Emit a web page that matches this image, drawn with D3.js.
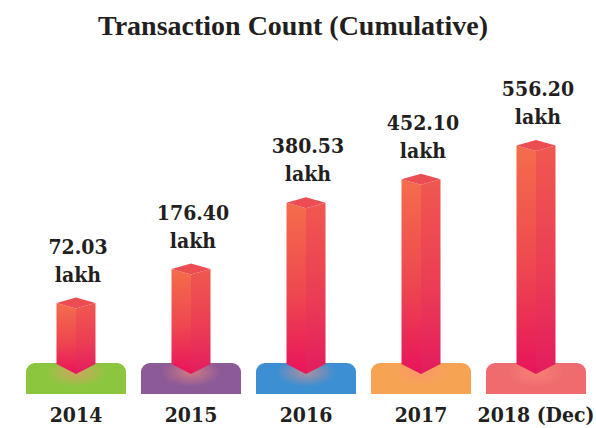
<!DOCTYPE html>
<html>
<head>
<meta charset="utf-8">
<script src="https://cdn.jsdelivr.net/npm/d3@7"></script>
<style>
  html, body { margin: 0; padding: 0; background: #ffffff; }
  svg { display: block; }
</style>
</head>
<body>
<script>
// Cumulative transaction count, in lakh
const years = ["2014", "2015", "2016", "2017", "2018 (Dec)"];
const counts = [72.03, 176.40, 380.53, 452.10, 556.20];
const valueLabels = ["72.03", "176.40", "380.53", "452.10", "556.20"];
const unitLabel = "lakh";
const plinthColors = ["#8cc63f", "#8c5a97", "#3b8fd2", "#f6a453", "#ef6b6e"];
const chartTitle = "Transaction Count (Cumulative)";

const W = 596, H = 428;
const svg = d3.select("body").append("svg")
  .attr("width", W).attr("height", H)
  .attr("viewBox", `0 0 ${W} ${H}`);

// column centres along the row
const x = d3.scalePoint().domain(years).range([76, 536]);

// the prism's pointed foot sits inside the plinth; its head rises with the count
const footY = 374;
const y = d3.scaleLinear().domain([-163, 556.2]).range([footY, 140]);

const halfW = 19.5;     // half the prism width
const capDrop = 5.5;    // half height of the top rhombus
const footDrop = 10;    // depth of the pointed foot
const plinthTop = 363, plinthBottom = 394, plinthHalf = 50, plinthR = 9;

const defs = svg.append("defs");
function linear(id, stops) {
  const g = defs.append("linearGradient").attr("id", id)
    .attr("x1", 0).attr("y1", 0).attr("x2", 0).attr("y2", 1);
  stops.forEach(([o, c]) => g.append("stop").attr("offset", o).attr("stop-color", c));
}
linear("face-front", [[0, "#f46d4b"], [0.55, "#ee4650"], [1, "#e8145b"]]);
linear("face-side", [[0, "#f0584f"], [0.55, "#eb3d55"], [1, "#e31c5e"]]);

const glow = defs.append("radialGradient").attr("id", "foot-glow");
glow.append("stop").attr("offset", 0).attr("stop-color", "#ff8f7a").attr("stop-opacity", 0.6);
glow.append("stop").attr("offset", 1).attr("stop-color", "#ff8f7a").attr("stop-opacity", 0);

const rows = years.map((yr, i) => ({
  year: yr, value: counts[i], label: valueLabels[i], color: plinthColors[i]
}));

// plinths
svg.append("g").selectAll("path").data(rows).join("path")
  .attr("fill", d => d.color)
  .attr("d", d => {
    const cx = x(d.year), x0 = cx - plinthHalf, x1 = cx + plinthHalf;
    const p = d3.path();
    p.moveTo(x0, plinthBottom);
    p.lineTo(x0, plinthTop + plinthR);
    p.arcTo(x0, plinthTop, x0 + plinthR, plinthTop, plinthR);
    p.lineTo(x1 - plinthR, plinthTop);
    p.arcTo(x1, plinthTop, x1, plinthTop + plinthR, plinthR);
    p.lineTo(x1, plinthBottom);
    p.closePath();
    return p.toString();
  });

// soft glow where each prism meets its plinth
svg.append("g").selectAll("ellipse").data(rows).join("ellipse")
  .attr("cx", d => x(d.year)).attr("cy", footY - 2)
  .attr("rx", 30).attr("ry", 15)
  .attr("fill", "url(#foot-glow)");

// prisms
const prism = svg.append("g").selectAll("g").data(rows).join("g");
const pts = a => "M" + a.map(p => p.join(",")).join("L") + "Z";

prism.append("path")
  .attr("fill", "url(#face-front)")
  .attr("d", d => {
    const cx = x(d.year), top = y(d.value);
    return pts([[cx - halfW, top + capDrop], [cx, top + 2 * capDrop],
                [cx, footY], [cx - halfW, footY - footDrop]]);
  });
prism.append("path")
  .attr("fill", "url(#face-side)")
  .attr("d", d => {
    const cx = x(d.year), top = y(d.value);
    return pts([[cx, top + 2 * capDrop], [cx + halfW, top + capDrop],
                [cx + halfW, footY - footDrop], [cx, footY]]);
  });
prism.append("path")
  .attr("fill", "#ec4d53")
  .attr("d", d => {
    const cx = x(d.year), top = y(d.value);
    return pts([[cx - halfW, top + capDrop], [cx, top],
                [cx + halfW, top + capDrop], [cx, top + 2 * capDrop]]);
  });

const labelFont = "'DejaVu Serif Condensed', 'DejaVu Serif', serif";

// value labels over each prism
const lab = svg.append("g")
  .attr("font-family", labelFont).attr("font-weight", "bold")
  .attr("font-size", 21).attr("fill", "#231f20")
  .attr("text-anchor", "middle")
  .selectAll("text").data(rows).join("text")
  .attr("x", d => x(d.year) + 2)
  .attr("y", d => y(d.value) - 16);
lab.append("tspan").attr("x", d => x(d.year) + 2).attr("dy", -28).text(d => d.label);
lab.append("tspan").attr("x", d => x(d.year) + 2).attr("dy", 28).text(unitLabel);

// year labels under the plinths
svg.append("g")
  .attr("font-family", labelFont).attr("font-weight", "bold")
  .attr("font-size", 21).attr("fill", "#231f20")
  .attr("text-anchor", "middle")
  .selectAll("text").data(rows).join("text")
  .attr("x", d => x(d.year))
  .attr("y", 422)
  .text(d => d.year);

// title
svg.append("text")
  .attr("x", 293).attr("y", 35)
  .attr("text-anchor", "middle")
  .attr("font-family", "'Liberation Serif', serif")
  .attr("font-weight", "bold").attr("font-size", 28)
  .attr("fill", "#231f20")
  .text(chartTitle);
</script>
</body>
</html>
